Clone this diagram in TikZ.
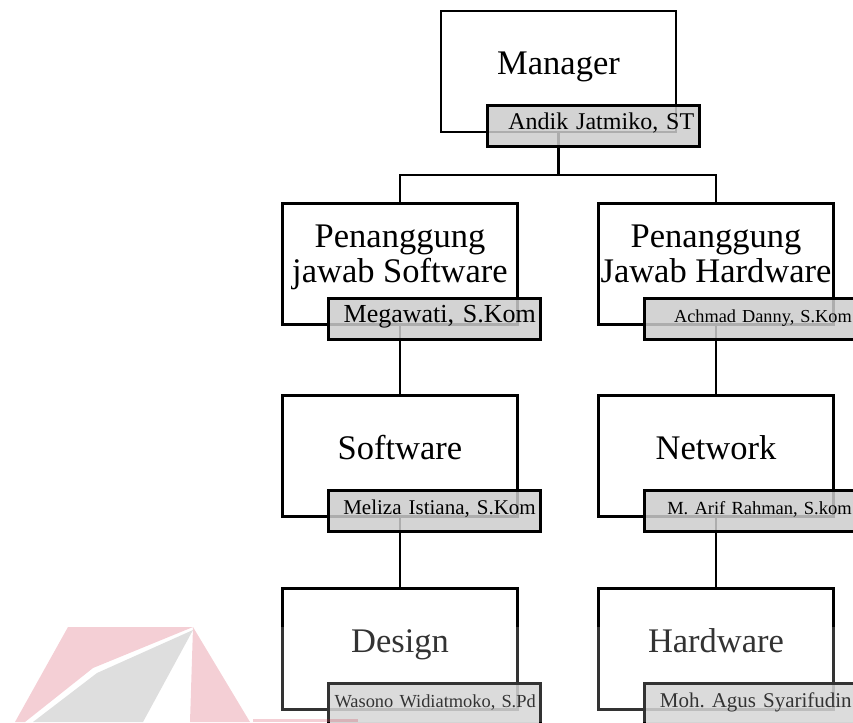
\documentclass[tikz,border=0pt]{standalone}
\usepackage{fontspec}
\setmainfont{Liberation Serif}
\usepackage{xcolor}
\usepackage{tikz}
\usetikzlibrary{calc}
\definecolor{logored}{HTML}{C8102E}
\newcommand{\fsz}[1]{\fontsize{#1}{#1}\selectfont}
\frenchspacing

\begin{document}
\begin{tikzpicture}[
    x=1pt, y=-1pt,
    unit/.style={
        draw=black,
        line width=2.5pt,
        fill=white,
        minimum width=235pt,
        minimum height=121pt,
        inner sep=0pt
    },
    title/.style={
        font=\fsz{34.5},
        align=center,
        anchor=base
    },
    holder/.style={
        draw=black,
        line width=2.8pt,
        fill=black!20,
        fill opacity=0.85,
        text opacity=1,
        minimum width=212pt,
        minimum height=41pt,
        text width=202pt,
        align=right,
        inner sep=4pt,
        text height=0.66em,
        text depth=0pt
    },
    link/.style={line width=2.5pt}
]
    \useasboundingbox (0,0) rectangle (853,722);
    \clip (0,0) rectangle (853,722);

    \node[unit] (mgr) at (558.5,71.5) {};
    \node[unit] (sw) at (400,264) {};
    \node[unit] (hw) at (716,264) {};
    \node[unit] (soft) at (400,456) {};
    \node[unit] (net) at (716,456) {};
    \node[unit] (des) at (400,649) {};
    \node[unit] (hard) at (716,649) {};

    \node[title] (mgrT) at ($(mgr.center)+(0,3.5)$) {Manager};
    \node[title] (swT) at ($(sw.center)+(0,18)$) {Penanggung\\jawab Software};
    \node[title] (hwT) at ($(hw.center)+(0,18)$) {Penanggung\\Jawab Hardware};
    \node[title] (softT) at ($(soft.center)+(0,3)$) {Software};
    \node[title] (netT) at ($(net.center)+(0,3)$) {Network};
    \node[title] (desT) at ($(des.center)+(0,3)$) {Design};
    \node[title] (hardT) at ($(hard.center)+(0,3)$) {Hardware};

    \draw[link] (mgr.south) -- ++(0,42) -| (sw.north);
    \draw[link] (mgr.south) -- ++(0,42) -| (hw.north);
    \draw[link] (sw.south) -- (soft.north);
    \draw[link] (hw.south) -- (net.north);
    \draw[link] (soft.south) -- (des.north);
    \draw[link] (net.south) -- (hard.north);

    \node[holder, font=\fsz{24}] (mgrN) at ($(mgr.south west)+(153.5,-7)$) {Andik Jatmiko, ST};
    \node[holder, font=\fsz{26}] (swN) at ($(sw.south west)+(153.5,-7)$) {Megawati, S.Kom};
    \node[holder, font=\fsz{18.3}] (hwN) at ($(hw.south west)+(153.5,-7)$) {Achmad Danny, S.Kom};
    \node[holder, font=\fsz{21}] (softN) at ($(soft.south west)+(153.5,-7)$) {Meliza Istiana, S.Kom};
    \node[holder, font=\fsz{18.5}] (netN) at ($(net.south west)+(153.5,-7)$) {M. Arif Rahman, S.kom};
    \node[holder, font=\fsz{18.4}] (desN) at ($(des.south west)+(153.5,-7)$) {Wasono Widiatmoko, S.Pd};
    \node[holder, font=\fsz{21}] (hardN) at ($(hard.south west)+(153.5,-7)$) {Moh. Agus Syarifudin};

    \fill[white, opacity=0.2] (0,627) rectangle (853,722);
    \fill[logored, fill opacity=0.2] (68,627) -- (193,627) -- (93,668) -- (25,722) -- (15,722) -- cycle;
    \fill[black, fill opacity=0.13] (193,630) -- (143,722) -- (33,722) -- (97,673) -- cycle;
    \fill[logored, fill opacity=0.2] (193,627) -- (247,717) -- (250,722) -- (190,722) -- cycle;
    \fill[logored, fill opacity=0.2] (253,719) rectangle (358,722);
\end{tikzpicture}
\end{document}
